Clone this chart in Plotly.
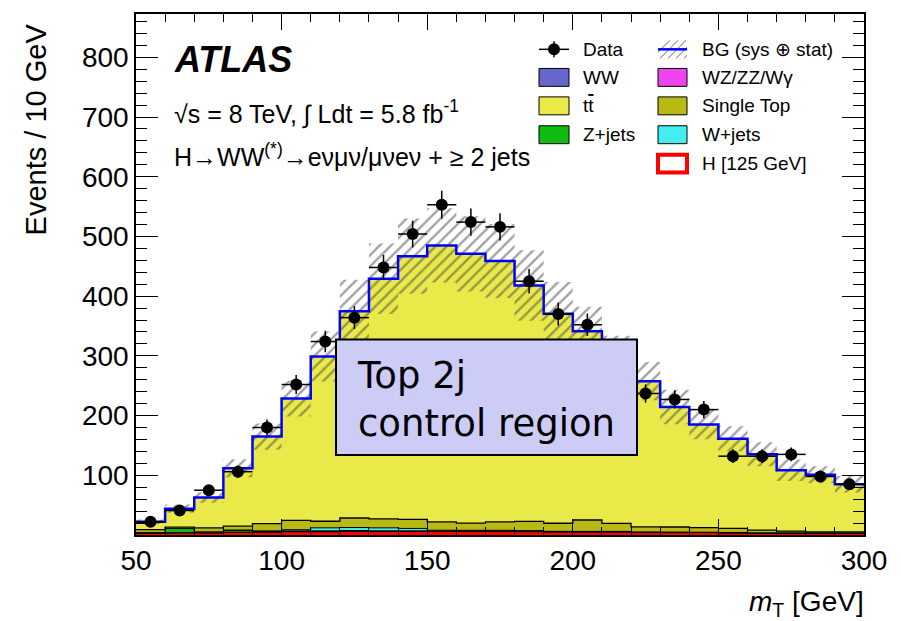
import numpy as np
import plotly.graph_objects as go

# ---------------- data ----------------
bin_edges = [50, 60, 70, 80, 90, 100, 110, 120, 130, 140, 150, 160, 170, 180, 190,
             200, 210, 220, 230, 240, 250, 260, 270, 280, 290, 300]
bin_centers = [55, 65, 75, 85, 95, 105, 115, 125, 135, 145, 155, 165, 175, 185, 195,
               205, 215, 225, 235, 245, 255, 265, 275, 285, 295]

data = [22, 41, 75, 106, 180, 252, 324, 364, 448, 504, 553, 524, 516, 425, 370,
        352, 300, 237, 227, 210, 132, 132, 135, 98, 85]

higgs = [1.5, 2, 2, 2.5, 2.5, 3, 3, 3, 3, 3, 3, 3, 3, 2.5, 2.5,
         2.5, 2.5, 2, 2, 2, 2, 1.5, 1.5, 1.5, 1.5]
ww = [1.5, 1.5, 1.5, 2, 2, 2.5, 2.5, 3, 3, 3, 3, 3, 3, 3, 2.5,
      2.5, 2.5, 2, 2, 2, 1.5, 1.5, 1.5, 1, 1]
wz_zz_wg = [0.2, 0.3, 0.3, 0.3, 0.4, 0.4, 0.5, 0.5, 0.5, 0.5, 0.5, 0.4, 0.4, 0.4, 0.4,
            0.3, 0.3, 0.3, 0.3, 0.2, 0.2, 0.2, 0.2, 0.2, 0.2]
zjets = [0.5, 7, 1, 3, 1, 1, 1, 1, 0.5, 0.5, 0.5, 0.5, 0.5, 0.5, 0.3,
         0.3, 0.3, 0.3, 0.3, 0.2, 0.2, 0.2, 0.2, 0.1, 0.1]
wjets = [0.3, 0.3, 0.5, 0.5, 1, 2, 5, 5, 5, 4, 1, 1, 1, 1, 0.5,
         0.5, 0.5, 0.5, 0.3, 0.3, 0.3, 0.3, 0.2, 0.2, 0.2]
single_top = [5, 2, 6.5, 6.5, 12, 15.5, 11, 16, 15, 15, 14, 12, 14, 15.5, 13.5,
              19, 13.5, 8.5, 8.5, 7.5, 7, 4.5, 3, 2, 2]
ttbar = [13, 31, 51, 97, 146, 204, 276, 346, 402, 441, 463, 451, 437, 395, 351,
         316, 278, 244, 201, 173, 150, 127, 102, 96, 80]
bg_unc = [4, 7, 9, 15, 22, 30, 42, 53, 59, 63, 62, 63, 62, 59, 53,
          41, 36, 32, 29, 25, 21, 20, 18, 14, 14]

x_ticks = [50, 100, 150, 200, 250, 300]
y_ticks = [0, 100, 200, 300, 400, 500, 600, 700, 800]
y_ticktext = ["", "100", "200", "300", "400", "500", "600", "700", "800"]

# ---------------- layout helpers ----------------
PL, PR, PT, PB = 136, 864, 12, 535.5
W, H = 901, 621
FONT = "Liberation Sans"


def px_x(x):
    return (x - PL) / (PR - PL)


def px_y(y):
    return (PB - y) / (PB - PT)


fig = go.Figure()

stack_specs = [
    ("H [125 GeV]", higgs, "#ff0000", "#ff0000", 3.5),
    ("WW", ww, "#6666cc", "black", 1),
    ("WZ/ZZ/Wγ", wz_zz_wg, "#ee44ee", "black", 1),
    ("Z+jets", zjets, "#11bb11", "black", 1),
    ("W+jets", wjets, "#44eeee", "black", 1),
    ("Single Top", single_top, "#b9b915", "black", 1.3),
    ("tt", ttbar, "#e9e94a", "rgba(0,0,0,0)", 0),
]

cum = np.zeros(len(bin_centers))
for i, (name, vals, fc, lc, lw) in enumerate(stack_specs):
    cum = cum + np.array(vals, dtype=float)
    fig.add_trace(go.Scatter(
        x=bin_edges, y=list(cum) + [cum[-1]], mode="lines",
        line=dict(shape="hv", color=lc, width=lw),
        fill="tozeroy" if i == 0 else "tonexty", fillcolor=fc,
        hoverinfo="skip", showlegend=False, name=name))

total = cum
unc = np.array(bg_unc, dtype=float)
lower = total - unc
upper = total + unc

fig.add_trace(go.Scatter(
    x=bin_edges, y=list(lower) + [lower[-1]], mode="lines",
    line=dict(shape="hv", width=0, color="rgba(0,0,0,0)"),
    hoverinfo="skip", showlegend=False))
fig.add_trace(go.Scatter(
    x=bin_edges, y=list(upper) + [upper[-1]], mode="lines",
    line=dict(shape="hv", width=0, color="rgba(0,0,0,0)"),
    fill="tonexty", fillcolor="rgba(0,0,0,0)",
    fillpattern=dict(shape="/", fgcolor="#444444", bgcolor="rgba(0,0,0,0)",
                     size=8, solidity=0.3),
    hoverinfo="skip", showlegend=False, name="BG (sys ⊕ stat)"))

fig.add_trace(go.Scatter(
    x=bin_edges, y=list(total) + [total[-1]], mode="lines",
    line=dict(shape="hv", color="#0000ff", width=2.5),
    hoverinfo="skip", showlegend=False))

fig.add_trace(go.Scatter(
    x=bin_centers, y=data, mode="markers",
    marker=dict(color="black", size=12),
    error_y=dict(type="data", array=list(np.sqrt(np.array(data, dtype=float))),
                 color="black", thickness=1.5, width=0),
    error_x=dict(type="constant", value=5, color="black", thickness=1.5, width=0),
    showlegend=False, name="Data"))

shapes = []
annotations = []


def rect(x0, y0, x1, y1, fill, lc="black", lw=1):
    shapes.append(dict(type="rect", xref="paper", yref="paper",
                       x0=px_x(x0), x1=px_x(x1), y0=px_y(y1), y1=px_y(y0),
                       fillcolor=fill, line=dict(color=lc, width=lw), layer="above"))


def line(x0, y0, x1, y1, color="black", lw=1.5):
    shapes.append(dict(type="line", xref="paper", yref="paper",
                       x0=px_x(x0), x1=px_x(x1), y0=px_y(y0), y1=px_y(y1),
                       line=dict(color=color, width=lw), layer="above"))


def text(x, y, s, size, xanchor="left", family=FONT, angle=0, align="left"):
    annotations.append(dict(xref="paper", yref="paper", x=px_x(x), y=px_y(y),
                            text=s, showarrow=False, xanchor=xanchor, yanchor="middle",
                            textangle=angle, align=align,
                            font=dict(family=family, size=size, color="black")))


# Control region box
rect(336, 339, 637, 455, "#ccccf7", "black", 2)
text(355, 399, "Top 2j<br>control region", 37, family="DejaVu Sans")

# ATLAS labels
text(172, 58, "<b><i>ATLAS</i></b>", 36)
text(172, 111, "√s = 8 TeV, ∫ Ldt = 5.8 fb<sup>-1</sup>", 25)
text(172, 154, "H→WW<sup>(*)</sup>→eνμν/μνeν + ≥ 2 jets", 25)

# Legend
rows = [47.5, 75.7, 104.3, 133.3, 162.3]
c1x0, c1x1, c2x0, c2x1 = 539, 569, 658, 687
# Data
line(c1x0, rows[0], c1x1, rows[0], "black", 1.5)
line((c1x0 + c1x1) / 2, rows[0] - 8, (c1x0 + c1x1) / 2, rows[0] + 8, "black", 1.5)
shapes.append(dict(type="circle", xref="paper", yref="paper",
                   x0=px_x(548), x1=px_x(560), y0=px_y(rows[0] + 6), y1=px_y(rows[0] - 6),
                   fillcolor="black", line=dict(color="black", width=0), layer="above"))
text(581, rows[0], "Data", 19)
col1 = [("WW", "#6666cc"), ("t<span style='text-decoration:overline'>t</span>", "#e9e94a"),
        ("Z+jets", "#11bb11")]
for (lab, col), yy in zip(col1, rows[1:4]):
    rect(c1x0, yy - 9, c1x1, yy + 9, col, "black", 1)
    text(581, yy, lab, 19)
# BG hatch
for k in range(5):
    xs = c2x0 - 6 + k * 8
    line(max(xs, c2x0), rows[0] + 9 - (max(xs, c2x0) - xs), min(xs + 18, c2x1),
         rows[0] + 9 - (min(xs + 18, c2x1) - xs), "#666666", 1)
line(c2x0, rows[0], c2x1, rows[0], "#0000ff", 2.5)
text(700, rows[0], "BG (sys ⊕ stat)", 19)
col2 = [("WZ/ZZ/Wγ", "#ee44ee"), ("Single Top", "#b9b915"), ("W+jets", "#44eeee")]
for (lab, col), yy in zip(col2, rows[1:4]):
    rect(c2x0, yy - 9, c2x1, yy + 9, col, "black", 1)
    text(700, yy, lab, 19)
rect(c2x0, rows[4] - 9, c2x1, rows[4] + 9, "white", "#ff0000", 4)
text(700, rows[4], "H [125 GeV]", 19)

# Axis titles
text(36, 128, "Events / 10 GeV", 29, xanchor="center", angle=-90)
annotations.append(dict(xref="paper", yref="paper", x=px_x(866), y=px_y(604),
                        text="<i>m</i><sub>T</sub> [GeV]", showarrow=False,
                        xanchor="right", yanchor="middle",
                        font=dict(family=FONT, size=28, color="black")))

fig.update_layout(
    width=W, height=H,
    margin=dict(l=PL, r=W - PR, t=PT, b=H - PB),
    paper_bgcolor="white", plot_bgcolor="white",
    showlegend=False, shapes=shapes, annotations=annotations,
    xaxis=dict(range=[50, 300], tickvals=x_ticks, ticks="inside", ticklen=16,
               tickwidth=1.3, tickcolor="black", showline=True, linecolor="black",
               linewidth=1.5, mirror="ticks", showgrid=False, zeroline=False,
               layer="above traces",
               tickfont=dict(family=FONT, size=28, color="black"),
               minor=dict(dtick=10, tick0=50, ticks="inside", ticklen=8,
                          tickcolor="black", tickwidth=1.2, showgrid=False)),
    yaxis=dict(range=[0, 872.5], tickvals=y_ticks, ticktext=y_ticktext,
               ticks="inside", ticklen=22, tickwidth=1.3, tickcolor="black",
               showline=True, linecolor="black", linewidth=1.5, mirror="ticks",
               showgrid=False, zeroline=False, layer="above traces",
               tickfont=dict(family=FONT, size=28, color="black"),
               minor=dict(dtick=20, tick0=0, ticks="inside", ticklen=11,
                          tickcolor="black", tickwidth=1.2, showgrid=False)),
)

fig.write_html("out.html")
